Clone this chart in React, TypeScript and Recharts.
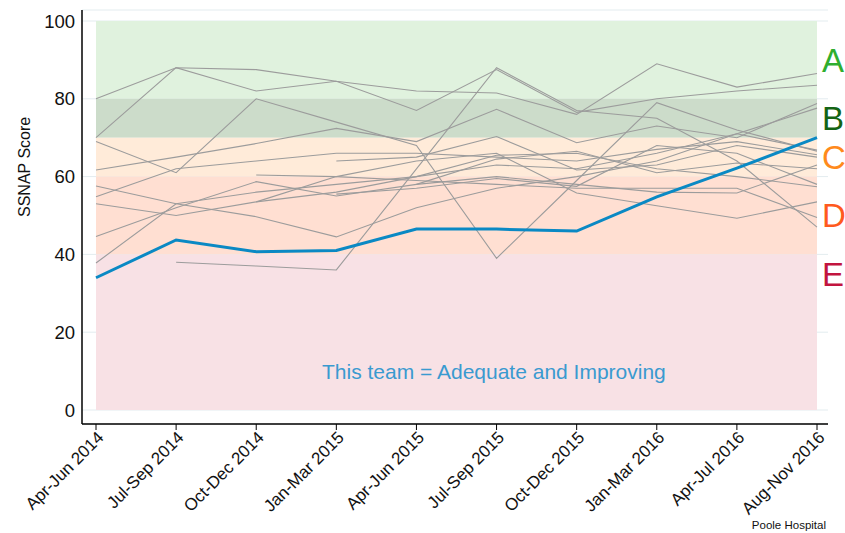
import { LineChart, Line, XAxis, YAxis, CartesianGrid, ReferenceArea } from "recharts";

const periods = [
  "Apr-Jun 2014",
  "Jul-Sep 2014",
  "Oct-Dec 2014",
  "Jan-Mar 2015",
  "Apr-Jun 2015",
  "Jul-Sep 2015",
  "Oct-Dec 2015",
  "Jan-Mar 2016",
  "Apr-Jul 2016",
  "Aug-Nov 2016",
];

// highlighted team
const pooleScores = [34, 43.7, 40.7, 41, 46.5, 46.5, 46, 54.8, 62.2, 70];

// other teams in the region
const peer1 = [80, 88, 87.5, 84.5, 82, 81.5, 76, 89, 83, 86.5];
const peer2 = [70, 88, 82, 84.5, 77, 87.5, 76.5, 80, 82, 83.5];
const peer3 = [69, 61, 80, 74, 68, 39, 59, 79, 72, 66.5];
const peer4 = [null, 38, 37, 36, 62, 88, 77, 75, 64, 47];
const peer5 = [61.7, 65, 68.5, 72.4, 69, 77.3, 68.7, 73, 70, 78.8];
const peer6 = [57.6, 53, 49.7, 44.5, 52, 57, 60, 64, 71, 77.6];
const peer7 = [54.8, 62, 64, 66, 66, 65, 64, 67, 69, 65.6];
const peer8 = [53, 50, 53.5, 56, 60, 65.5, 66, 62, 60, 57.4];
const peer9 = [44.6, 52, 58.7, 55, 58, 60, 58, 56, 55.8, 63];
const peer10 = [37.8, 53, 56, 58, 60, 63, 62, 66, 71, 66.8];
const peer11 = [null, null, 60.4, 60, 59, 58, 57, 57, 57, 49.5];
const peer12 = [null, null, 53.5, 60, 64, 66, 55.8, 52.5, 49.3, 53.5];
const peer13 = [null, null, null, 64, 65, 70.3, 61.7, 63, 68, 65];
const peer14 = [null, null, null, null, 58, 64.5, 66.5, 61, 63.5, 62];
const peer15 = [null, null, null, 55.5, 57, 59.5, 57.5, 68, 66, 58];

const peers = [
  peer1, peer2, peer3, peer4, peer5, peer6, peer7, peer8,
  peer9, peer10, peer11, peer12, peer13, peer14, peer15,
];

const yTicks = [0, 20, 40, 60, 80, 100];

const data = periods.map((period, i) => {
  const row: Record<string, string | number | null> = { period, team: pooleScores[i] };
  peers.forEach((p, j) => {
    row[`peer${j + 1}`] = p[i];
  });
  return row;
});

const font = "'Liberation Sans', Arial, sans-serif";

const XTick = ({ x, y, payload }: any) => (
  <g transform={`translate(${x + 3},${y + 1})`}>
    <text x={0} y={0} dy={8} textAnchor="end" transform="rotate(-45)" fontSize={17} fill="#111" fontFamily={font}>
      {payload.value}
    </text>
  </g>
);

const bandLabel = (text: string, color: string) => ({
  value: text,
  position: "right" as const,
  offset: 5,
  fill: color,
  fontSize: 33,
  fontFamily: font,
});

export default function App() {
  return (
    <div style={{ position: "absolute", left: 0, top: 0, width: 845, height: 533, background: "#fff", fontFamily: font }}>
      <LineChart width={845} height={533} data={data} margin={{ top: 10, right: 17, left: 0, bottom: 0 }}>
        <CartesianGrid horizontal vertical={false} stroke="#e3ecef" />
        <ReferenceArea x1={periods[0]} x2={periods[9]} y1={80} y2={100} fill="#e0f2de" fillOpacity={1} stroke="none" label={bandLabel("A", "#2fae2f")} />
        <ReferenceArea x1={periods[0]} x2={periods[9]} y1={70} y2={80} fill="#ccdcca" fillOpacity={1} stroke="none" label={bandLabel("B", "#146414")} />
        <ReferenceArea x1={periods[0]} x2={periods[9]} y1={60} y2={70} fill="#ffebd9" fillOpacity={1} stroke="none" label={bandLabel("C", "#ff8a1c")} />
        <ReferenceArea x1={periods[0]} x2={periods[9]} y1={40} y2={60} fill="#ffdfd2" fillOpacity={1} stroke="none" label={bandLabel("D", "#ff5a1e")} />
        <ReferenceArea x1={periods[0]} x2={periods[9]} y1={0} y2={40} fill="#f8e1e5" fillOpacity={1} stroke="none" />
        <ReferenceArea x1={periods[0]} x2={periods[9]} y1={30} y2={40} fill="none" fillOpacity={0} stroke="none" label={bandLabel("E", "#c2143f")} />
        <XAxis
          dataKey="period"
          interval={0}
          height={109}
          padding={{ left: 14, right: 11 }}
          axisLine={{ stroke: "#000", strokeWidth: 1.5 }}
          tickLine={{ stroke: "#000" }}
          tickSize={6}
          tick={<XTick />}
        />
        <YAxis
          domain={[0, 100]}
          ticks={yTicks}
          width={82}
          padding={{ top: 11, bottom: 14 }}
          axisLine={{ stroke: "#000", strokeWidth: 1.5 }}
          tickLine={false}
          tickSize={4}
          tickMargin={3}
          tick={{ fill: "#111", fontSize: 18.5, fontFamily: font }}
          label={{ value: "SSNAP Score", angle: -90, position: "insideLeft", offset: 24, fill: "#111", fontSize: 16, fontFamily: font }}
        />
        {peers.map((_, j) => (
          <Line
            key={j}
            type="linear"
            dataKey={`peer${j + 1}`}
            stroke="#9c9c9c"
            strokeWidth={1.1}
            dot={false}
            isAnimationActive={false}
          />
        ))}
        <Line type="linear" dataKey="team" stroke="#0a89c4" strokeWidth={3} dot={false} isAnimationActive={false} />
      </LineChart>
      <div style={{ position: "absolute", left: 322, top: 360, fontSize: 21, color: "#3a9ad0", whiteSpace: "nowrap" }}>
        This team = Adequate and Improving
      </div>
      <div style={{ position: "absolute", right: 19, top: 519, fontSize: 11.5, color: "#111" }}>Poole Hospital</div>
    </div>
  );
}
